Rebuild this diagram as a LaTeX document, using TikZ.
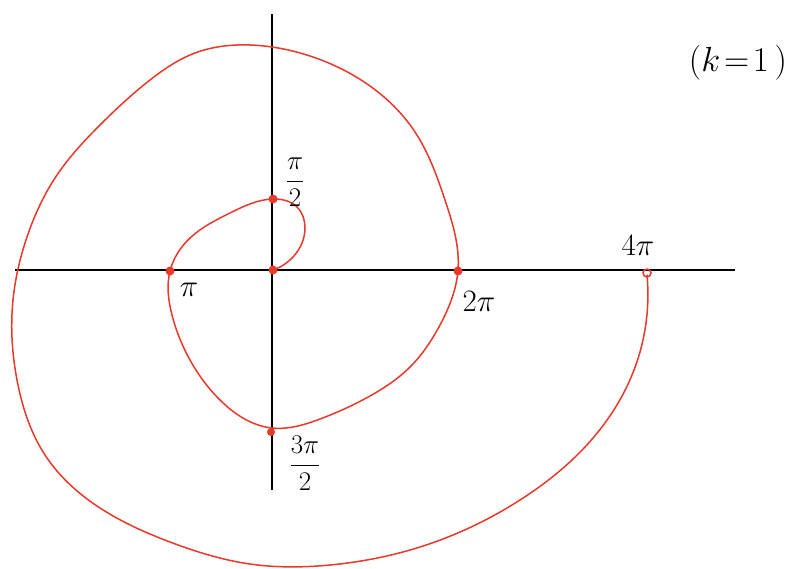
\documentclass[tikz,border=0pt]{standalone}
\usepackage{fontspec}
\setmainfont{Liberation Sans}
\usetikzlibrary{hobby}
\begin{document}
\begin{tikzpicture}[x=1pt,y=-1pt,
  axis/.style={line width=1.6pt,black},
  spiral/.style={line width=1.5pt,draw={rgb,255:red,232;green,57;blue,43},line cap=round,line join=round},
  dotpt/.style={circle,fill={rgb,255:red,232;green,57;blue,43},inner sep=0pt,minimum size=9pt},
  ringpt/.style={circle,draw={rgb,255:red,232;green,57;blue,43},line width=1.5pt,inner sep=0pt,minimum size=8pt},
  lbl/.style={font=\fontsize{20}{22}\selectfont,inner sep=0pt},
  biglbl/.style={font=\fontsize{24}{26}\selectfont,inner sep=0pt}]
\useasboundingbox (0,0) rectangle (791,568);
\fill[white] (0,0) rectangle (791,568);
% axes
\draw[axis] (15,270) -- (735,270);
\draw[axis] (272,14) -- (272,490);
% spiral
\draw[spiral,use Hobby shortcut]
 (273,270) .. (293,257) .. (305,228) .. (297,207) .. (273,199)
 .. (230,213) .. (190,238) .. (170,271)
 .. (172,315) .. (190,360) .. (220,400) .. (272,428)
 .. (320,419) .. (370,396) .. (410,367) .. (440,325) .. (458,270)
 .. (445,200) .. (415,132) .. (370,86) .. (310,56) .. (250,45)
 .. (195,53) .. (150,80) .. (100,125) .. (57,175) .. (27,237) .. (13,300)
 .. (18,385) .. (45,455) .. (100,508) .. (170,542) .. (250,564)
 .. (330,565) .. (420,547) .. (520,500) .. (598,432) .. (634,370) .. (647,275);
% marked points
\node[dotpt] (o) at (273,270) {};
\node[dotpt] (p1) at (273,199) {};
\node[dotpt] (p2) at (170,271) {};
\node[dotpt,minimum size=8pt] (p3) at (271,432) {};
\node[dotpt] (p4) at (458,271) {};
\node[ringpt] (p8) at (647,273) {};
% labels
\node[lbl] (l1) at (295,182) {\scalebox{1.3}{$\displaystyle\frac{\pi}{2}$}};
\node[biglbl] (l2) at (189,290) {\scalebox{1.25}{$\pi$}};
\node[biglbl] (l4) at (479,301) {\scalebox{1.25}{$2\pi$}};
\node[lbl] (l3) at (305,463) {\scalebox{1.3}{$\displaystyle\frac{3\pi}{2}$}};
\node[biglbl] (l8) at (638,245) {\scalebox{1.25}{$4\pi$}};
\node[biglbl] (k) at (738,63) {\scalebox{1.4}{$(k\!=\!1\,)$}};
\end{tikzpicture}
\end{document}
